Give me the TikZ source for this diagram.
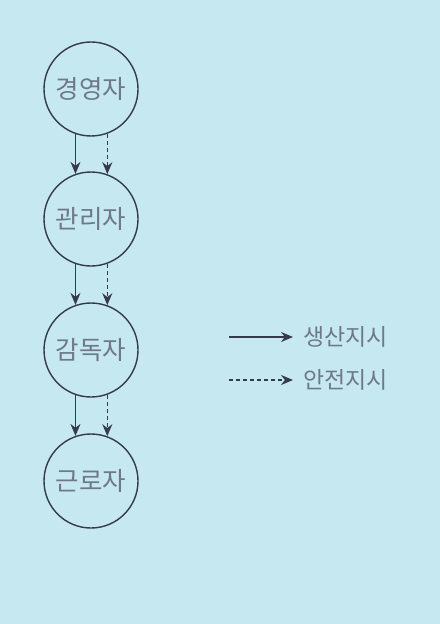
\documentclass[tikz,border=0pt]{standalone}
\usepackage{fontspec}
\newfontfamily\kr{Noto Sans CJK KR}
\usetikzlibrary{arrows.meta}
\definecolor{bgc}{HTML}{C6E8F1}
\definecolor{linec}{HTML}{353B4C}
\definecolor{txtc}{HTML}{6E7886}
\tikzset{
  role/.style={circle,draw=linec,line width=1.4bp,minimum size=94bp,inner sep=0pt,
    text=txtc,font=\kr\fontsize{25.5bp}{27bp}\selectfont},
  prod/.style={draw=linec,line width=1.3bp,-{Stealth[length=12bp,width=10bp]}},
  safe/.style={prod,dash pattern=on 4bp off 3bp},
  lbl/.style={text=txtc,font=\kr\fontsize{23bp}{25bp}\selectfont,anchor=west,inner sep=0pt}
}
\begin{document}
\begin{tikzpicture}[x=1bp,y=-1bp]
\fill[bgc] (0,0) rectangle (440,624);
\useasboundingbox (0,0) rectangle (440,624);
\node[role] (a) at (91,89) {경영자};
\node[role] (b) at (91,219) {관리자};
\node[role] (c) at (91,350) {감독자};
\node[role] (d) at (91,481) {근로자};
\foreach \u/\v in {a/b,b/c,c/d}{
  \draw[prod] (\u.{270-19}) -- (\v.{90+19});
  \draw[safe] (\u.{270+20}) -- (\v.{90-20});
}
\coordinate (p1) at (229,337);
\coordinate (p2) at (293,337);
\coordinate (q1) at (229,380);
\coordinate (q2) at (293,380);
\draw[prod] (p1) -- (p2);
\draw[safe] (q1) -- (q2);
\node[lbl] (t1) at (303,337) {생산지시};
\node[lbl] (t2) at (303,380) {안전지시};
\end{tikzpicture}
\end{document}
